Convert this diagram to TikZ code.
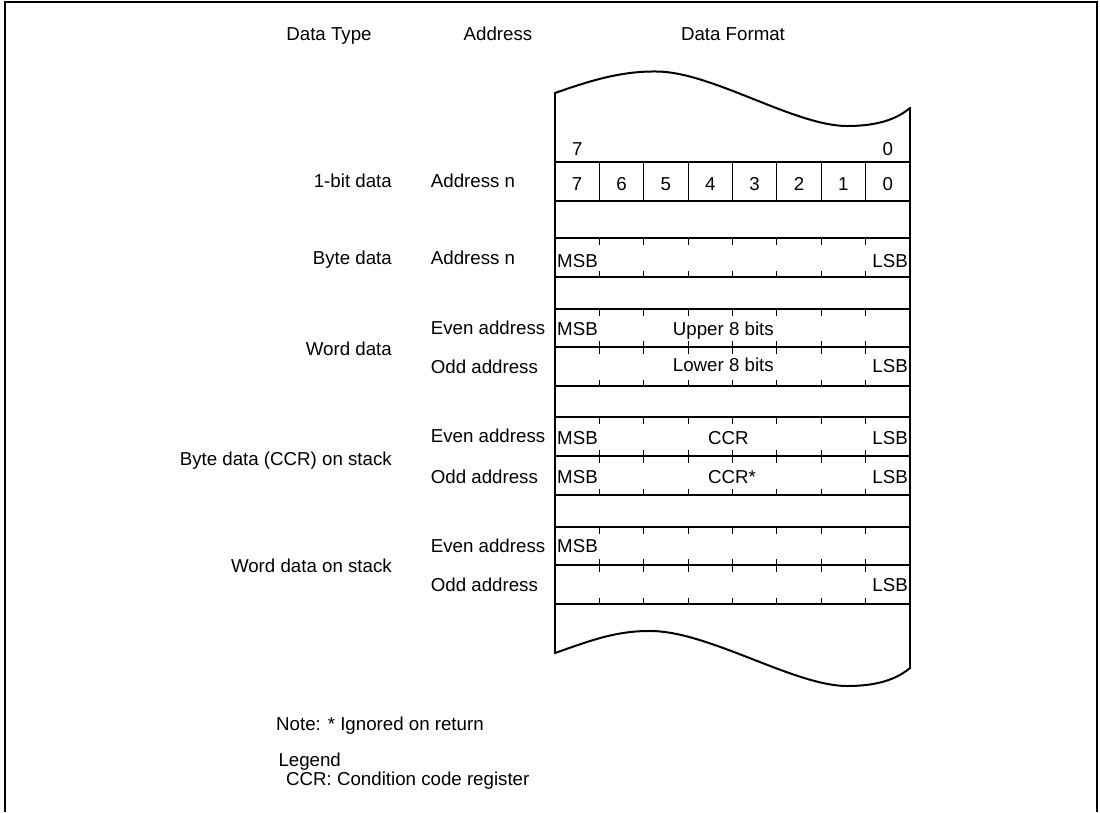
\documentclass[tikz,border=0pt]{standalone}
\usepackage{fontspec}
\setmainfont{Liberation Sans}
\begin{document}
\begin{tikzpicture}[x=1pt,y=-1pt,
  lbl/.style={font=\fontsize{18.7}{22}\selectfont, inner sep=0pt, anchor=base},
  lblr/.style={lbl, anchor=base east},
  lbll/.style={lbl, anchor=base west},
  rowline/.style={line width=1.7pt},
  waveline/.style={line width=2pt, line join=round},
  thinline/.style={line width=0.9pt},
  framestyle/.style={line width=2.2pt}]
\useasboundingbox (0,0) rectangle (1100,812);
% outer frame (open at bottom)
\draw[framestyle] (5,812) -- (5,2) -- (1097,2) -- (1097,812);
% top wave and bottom wave
\draw[waveline] (555,93) .. controls (592,80) and (622,71) .. (657,71.5)
  .. controls (712,72) and (795,126) .. (847,126)
  .. controls (880,126) and (898,118) .. (910,108);
\draw[waveline] (555,653) .. controls (592,640) and (617,630.5) .. (652,631)
  .. controls (710,632) and (795,686) .. (847,686)
  .. controls (880,686) and (898,678) .. (910,668);
% sides
\draw[rowline] (555,92) -- (555,654);
\draw[rowline] (910,107) -- (910,669);
% horizontal row lines
\foreach \y in {162,201,238,277,309,347,386,417,456,495,527,565,604}
  \draw[rowline] (555,\y) -- (910,\y);
% bit row dividers
\foreach \k in {1,...,7}
  \draw[thinline] ({555+44.375*\k},162) -- ({555+44.375*\k},201);
% ticks in data rows
\foreach \t/\b in {238/277,309/347,347/386,417/456,456/495,527/565,565/604}
  \foreach \k in {1,...,7} {
    \draw[thinline] ({555+44.375*\k},\t) -- ({555+44.375*\k},{\t+6.5});
    \draw[thinline] ({555+44.375*\k},\b) -- ({555+44.375*\k},{\b-6.5});
  }
% headers
\node[lbl] (hType) at (329,40) {Data Type};
\node[lbl] (hAddr) at (498,40) {Address};
\node[lbl] (hFmt) at (733,40) {Data Format};
% bit numbers
\node[lbl] (top7) at (577.2,155) {7};
\node[lbl] (top0) at (887.8,155) {0};
\foreach \i in {0,...,7}
  \node[lbl] (bit\i) at ({887.8-44.375*\i},190) {\i};
% left labels
\node[lblr] (t1) at (392,187) {1-bit data};
\node[lbll] (a1) at (430.7,187) {Address n};
\node[lblr] (t2) at (392,264) {Byte data};
\node[lbll] (a2) at (430.7,264) {Address n};
\node[lblr] (t3) at (392,355) {Word data};
\node[lbll] (a3e) at (430.7,334) {Even address};
\node[lbll] (a3o) at (430.7,373) {Odd address};
\node[lblr] (t4) at (392,465) {Byte data (CCR) on stack};
\node[lbll] (a4e) at (430.7,442) {Even address};
\node[lbll] (a4o) at (430.7,483) {Odd address};
\node[lblr] (t5) at (392,572) {Word data on stack};
\node[lbll] (a5e) at (430.7,552) {Even address};
\node[lbll] (a5o) at (430.7,591) {Odd address};
% contents
\node[lbll] (m2) at (557,267) {MSB};
\node[lblr] (l2) at (908,267) {LSB};
\node[lbll] (m3) at (557,335) {MSB};
\node[lbll] (u3) at (672.7,335.5) {Upper 8 bits};
\node[lbll] (w3) at (672.7,371.7) {Lower 8 bits};
\node[lblr] (l3) at (908,372) {LSB};
\node[lbll] (m4) at (557,444) {MSB};
\node[lbll] (c4) at (708,444) {CCR};
\node[lblr] (l4) at (908,444) {LSB};
\node[lbll] (m4o) at (557,483) {MSB};
\node[lbll] (c4o) at (708,483) {CCR*};
\node[lblr] (l4o) at (908,483) {LSB};
\node[lbll] (m5) at (557,552) {MSB};
\node[lblr] (l5) at (908,591) {LSB};
% notes
\node[lbll] (note) at (276,730.5) {Note: * Ignored on return};
\node[lbll] (leg) at (278.3,766.7) {Legend};
\node[lbll] (legccr) at (286,785) {CCR: Condition code register};
\end{tikzpicture}
\end{document}
